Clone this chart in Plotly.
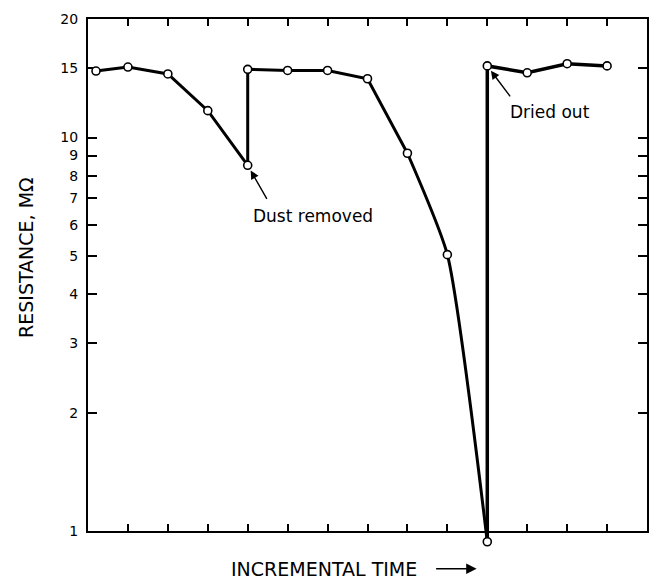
import numpy as np
import plotly.graph_objects as go

# Resistance readings over incremental time steps (MΩ)
time_steps = [0.2, 1, 2, 3, 4, 4, 5, 6, 7, 8, 9, 10, 10, 11, 12, 13]
resistance = [14.75, 15.1, 14.5, 11.7, 8.5, 14.9, 14.8, 14.8, 14.1, 9.12, 5.04, 0.94, 15.2, 14.6, 15.4, 15.2]

y_tick_vals = [1, 2, 3, 4, 5, 6, 7, 8, 9, 10, 15, 20]
y_tick_text = ["1", "2", "3", "4", "5", "6", "7", "8", "9", "10", "15", "20"]
x_tick_vals = list(range(1, 14))

# Layout geometry (pixels)
W, H = 660, 579
M_L, M_R, M_T = 88, 11, 14
PLOT_BOTTOM = 531          # pixel row of value 1
PAPER_BOTTOM = 548         # paper extends a bit lower so the lowest reading can hang below the frame
M_B = H - PAPER_BOTTOM
paper_w = W - M_L - M_R
paper_h = PAPER_BOTTOM - M_T
y_lo, y_hi = np.log10(1), np.log10(20)
px_per_decade = (PLOT_BOTTOM - M_T) / (y_hi - y_lo)
y_dom0 = (PAPER_BOTTOM - PLOT_BOTTOM) / paper_h
y2_lo = y_lo - (PAPER_BOTTOM - PLOT_BOTTOM) / px_per_decade


def px_x(px):
    return (px - M_L) / paper_w


def px_y(py):
    return 1 - (py - M_T) / paper_h


FONT = "DejaVu Sans, Liberation Sans, sans-serif"
INK = "black"

fig = go.Figure()

# segments of the resistance trace
seg_a = slice(0, 10)    # start through the reading before the steep decline
seg_b = slice(9, 12)    # steep curved decline
seg_c = slice(11, 16)   # recovery after drying out

fig.add_trace(go.Scatter(x=time_steps[seg_a], y=resistance[seg_a], mode="lines",
                         line=dict(color=INK, width=3), xaxis="x", yaxis="y2", hoverinfo="skip"))
fig.add_trace(go.Scatter(x=time_steps[seg_b], y=resistance[seg_b], mode="lines",
                         line=dict(color=INK, width=3, shape="spline", smoothing=0.55),
                         xaxis="x", yaxis="y2", hoverinfo="skip"))
fig.add_trace(go.Scatter(x=time_steps[seg_c], y=resistance[seg_c], mode="lines",
                         line=dict(color=INK, width=3.5), xaxis="x", yaxis="y2", hoverinfo="skip"))
fig.add_trace(go.Scatter(x=time_steps, y=resistance, mode="markers",
                         marker=dict(symbol="circle", size=8, color="white",
                                     line=dict(color=INK, width=1.6)),
                         xaxis="x", yaxis="y2", cliponaxis=False))

axis_common = dict(showline=True, linecolor=INK, linewidth=2, mirror="ticks",
                   ticks="inside", tickcolor=INK, tickwidth=1.5,
                   showgrid=False, zeroline=False, layer="above traces")

fig.update_layout(
    width=W, height=H,
    margin=dict(l=M_L, r=M_R, t=M_T, b=M_B, pad=0),
    paper_bgcolor="white", plot_bgcolor="rgba(0,0,0,0)",
    showlegend=False,
    font=dict(family=FONT, color=INK, size=14),
    xaxis=dict(range=[0, 14], tickvals=x_tick_vals, showticklabels=False,
               ticklen=7, anchor="y", **axis_common),
    yaxis=dict(type="log", range=[y_lo, y_hi], domain=[y_dom0, 1],
               tickvals=y_tick_vals, ticktext=y_tick_text, ticklen=9,
               ticklabelstandoff=5, tickfont=dict(size=14, family=FONT),
               anchor="x", **axis_common),
    yaxis2=dict(type="log", range=[y2_lo, y_hi], domain=[0, 1], anchor="x",
                visible=False, showgrid=False, zeroline=False),
)

ann_font = dict(family=FONT, size=17, color=INK)

# "Dust removed" note and arrow
fig.add_annotation(x=5.64, y=np.log10(6.3), xref="x", yref="y", text="Dust removed",
                   showarrow=False, font=ann_font)
fig.add_annotation(x=time_steps[4], y=np.log10(resistance[4]), xref="x", yref="y",
                   text="", showarrow=True, ax=20, ay=35, arrowhead=2, arrowsize=1.2,
                   arrowwidth=1.4, arrowcolor=INK, standoff=6)

# "Dried out" note and arrow
fig.add_annotation(x=11.58, y=np.log10(11.6), xref="x", yref="y", text="Dried out",
                   showarrow=False, font=ann_font)
fig.add_annotation(x=time_steps[12], y=np.log10(resistance[12]), xref="x", yref="y",
                   text="", showarrow=True, ax=24, ay=32, arrowhead=2, arrowsize=1.2,
                   arrowwidth=1.4, arrowcolor=INK, standoff=6)

# Axis titles
fig.add_annotation(x=px_x(26), y=px_y(255), xref="paper", yref="paper",
                   text="RESISTANCE, MΩ", showarrow=False, textangle=-90,
                   xanchor="center", yanchor="middle",
                   font=dict(family=FONT, size=19, color=INK))

fig.add_annotation(x=px_x(325), y=px_y(569), xref="paper", yref="paper",
                   text="INCREMENTAL TIME", showarrow=False,
                   xanchor="center", yanchor="middle",
                   font=dict(family=FONT, size=19, color=INK))
fig.add_annotation(x=px_x(478), y=px_y(569), xref="paper", yref="paper",
                   ax=-42, ay=0, text="", showarrow=True, arrowhead=2, arrowsize=1.3,
                   arrowwidth=1.6, arrowcolor=INK)

fig.write_html("out.html")
